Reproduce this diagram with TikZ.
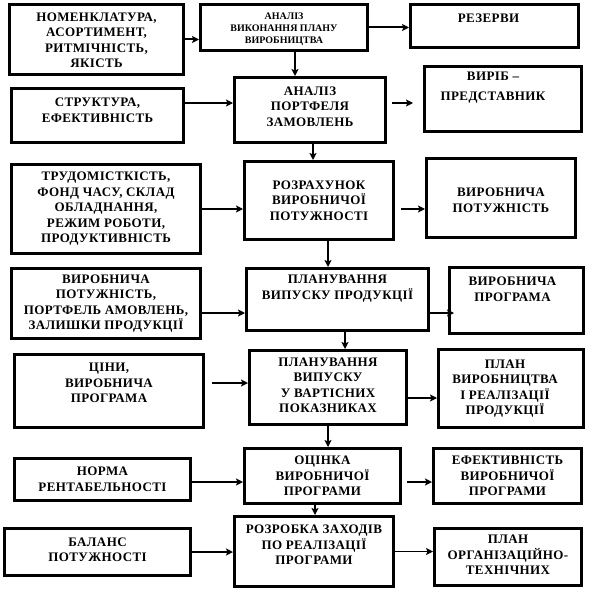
\documentclass[tikz,border=0pt]{standalone}
\usepackage{fontspec}
\setmainfont{Liberation Serif}
\newfontfamily\widefont[LetterSpace=3]{Liberation Serif}
\usetikzlibrary{arrows.meta,positioning,calc}
\tikzset{
  box/.style 2 args={draw=black,line width=3pt,inner sep=0pt,
                     minimum width=#1pt,minimum height=#2pt},
  lbl/.style={font=\widefont\bfseries\fontsize{13}{15.5}\selectfont,
              align=center,inner sep=0pt},
  sml/.style={font=\bfseries\fontsize{10}{12}\selectfont,
              align=center,inner sep=0pt},
  arr/.style={-{Stealth[length=7pt,width=7pt,inset=1.5pt]},line width=2pt},
}

\begin{document}
\begin{tikzpicture}[x=1pt,y=-1pt]
  \useasboundingbox (0,0) rectangle (596,594);
  % left column: input data
  \node[box={174}{70}] (nomen) at (96.5,39.5) {};
  \node[lbl] (nomen-t) at ([yshift=-1pt]nomen) {НОМЕНКЛАТУРА,\\АСОРТИМЕНТ,\\РИТМІЧНІСТЬ,\\ЯКІСТЬ};
  \node[box={172}{54}] (strukt) at (97.5,115.5) {};
  \node[lbl] (strukt-t) at ([yshift=5pt]strukt) {СТРУКТУРА,\\ЕФЕКТИВНІСТЬ};
  \node[box={189}{89}] (trud) at (106,209) {};
  \node[lbl] (trud-t) at (trud) {ТРУДОМІСТКІСТЬ,\\ФОНД ЧАСУ, СКЛАД\\ОБЛАДНАННЯ,\\РЕЖИМ РОБОТИ,\\ПРОДУКТИВНІСТЬ};
  \node[box={189}{70}] (vhid) at (106,303.5) {};
  \node[lbl] (vhid-t) at (vhid) {ВИРОБНИЧА\\ПОТУЖНІСТЬ,\\ПОРТФЕЛЬ АМОВЛЕНЬ,\\ЗАЛИШКИ ПРОДУКЦІЇ};
  \node[box={189}{73}] (tsiny) at (109,391) {};
  \node[lbl] (tsiny-t) at ([yshift=8pt]tsiny) {ЦІНИ,\\ВИРОБНИЧА\\ПРОГРАМА};
  \node[box={176}{42}] (norma) at (102.5,479.5) {};
  \node[lbl] (norma-t) at (norma) {НОРМА\\РЕНТАБЕЛЬНОСТІ};
  \node[box={186}{47}] (balans) at (97.5,552) {};
  \node[lbl] (balans-t) at ([yshift=2pt]balans) {БАЛАНС\\ПОТУЖНОСТІ};

  % middle column: stages
  \node[box={167}{46}] (anvp) at (284,27.5) {};
  \node[sml] (anvp-t) at ([yshift=-1.5pt]anvp) {АНАЛІЗ\\ВИКОНАННЯ ПЛАНУ\\ВИРОБНИЦТВА};
  \node[box={151}{65}] (portf) at (310,110) {};
  \node[lbl] (portf-t) at ([yshift=3.5pt]portf) {АНАЛІЗ\\ПОРТФЕЛЯ\\ЗАМОВЛЕНЬ};
  \node[box={149}{78}] (rozr) at (319,200.5) {};
  \node[lbl] (rozr-t) at (rozr) {РОЗРАХУНОК\\ВИРОБНИЧОЇ\\ПОТУЖНОСТІ};
  \node[box={182}{62}] (planv) at (337.5,299.5) {};
  \node[lbl] (planv-t) at ([yshift=11pt]planv) {ПЛАНУВАННЯ\\ВИПУСКУ ПРОДУКЦІЇ};
  \node[box={157}{74}] (vart) at (328,387.5) {};
  \node[lbl] (vart-t) at ([yshift=2pt]vart) {ПЛАНУВАННЯ\\ВИПУСКУ\\У ВАРТІСНИХ\\ПОКАЗНИКАХ};
  \node[box={156}{55}] (otsin) at (322.5,476) {};
  \node[lbl] (otsin-t) at (otsin) {ОЦІНКА\\ВИРОБНИЧОЇ\\ПРОГРАМИ};
  \node[box={159}{70}] (zakh) at (314,551.5) {};
  \node[lbl] (zakh-t) at ([yshift=6.5pt]zakh) {РОЗРОБКА ЗАХОДІВ\\ПО РЕАЛІЗАЦІЇ\\ПРОГРАМИ};

  % right column: results
  \node[box={168}{43}] (rez) at (494.5,26) {};
  \node[lbl] (rez-t) at ([xshift=-6pt,yshift=8pt]rez) {РЕЗЕРВИ};
  \node[box={157}{65}] (vyrib) at (503,99) {};
  \node[lbl,font=\widefont\bfseries\fontsize{13}{20}\selectfont] (vyrib-t)
    at ([xshift=-10pt,yshift=11pt]vyrib) {ВИРІБ –\\ПРЕДСТАВНИК};
  \node[box={149}{79}] (potuzh) at (501,198) {};
  \node[lbl] (potuzh-t) at ([yshift=-2.5pt]potuzh) {ВИРОБНИЧА\\ПОТУЖНІСТЬ};
  \node[box={134}{66}] (prog) at (516.5,300.5) {};
  \node[lbl] (prog-t) at ([xshift=-4pt,yshift=11pt]prog) {ВИРОБНИЧА\\ПРОГРАМА};
  \node[box={145}{78}] (planvr) at (511,388.5) {};
  \node[lbl] (planvr-t) at ([xshift=-6pt]planvr) {ПЛАН\\ВИРОБНИЦТВА\\І РЕАЛІЗАЦІЇ\\ПРОДУКЦІЇ};
  \node[box={148}{55}] (efekt) at (507.5,476) {};
  \node[lbl] (efekt-t) at (efekt) {ЕФЕКТИВНІСТЬ\\ВИРОБНИЧОЇ\\ПРОГРАМИ};
  \node[box={147}{57}] (plorg) at (508,557) {};
  \node[lbl] (plorg-t) at ([yshift=2pt]plorg) {ПЛАН\\ОРГАНІЗАЦІЙНО-\\ТЕХНІЧНИХ};

  % connectors
  \draw[arr] (nomen) -- (nomen -| anvp.west);
  \draw[arr] (anvp) -- (anvp -| rez.west);
  \draw[arr] ([xshift=11pt]anvp.south) -- ([xshift=11pt]anvp.south |- portf.north);
  \draw[arr] ([yshift=12.5pt]strukt.east) -- ([yshift=12.5pt]strukt.east -| portf.west);
  \draw[arr,shorten <=5pt,shorten >=10pt] ([yshift=7pt]portf.east) -- ([yshift=7pt]portf.east -| vyrib.west);
  \draw[arr] ([xshift=3pt]portf.south) -- ([xshift=3pt]portf.south |- rozr.north);
  \draw[arr] (trud) -- (trud -| rozr.west);
  \draw[arr,shorten <=6pt] ([yshift=-8.5pt]rozr.east) -- ([yshift=-8.5pt]rozr.east -| potuzh.west);
  \draw[arr] ([xshift=9pt]rozr.south) -- ([xshift=9pt]rozr.south |- planv.north);
  \draw[arr] ([yshift=-9.5pt]vhid.east) -- ([yshift=-9.5pt]vhid.east -| planv.west);
  \draw[arr,shorten >=-6pt] ([yshift=-13.5pt]planv.east) -- ([yshift=-13.5pt]planv.east -| prog.west);
  \draw[arr] ([xshift=7.5pt]planv.south) -- ([xshift=7.5pt]planv.south |- vart.north);
  \draw[arr,shorten <=7pt] ([yshift=8pt]tsiny.east) -- ([yshift=8pt]tsiny.east -| vart.west);
  \draw[arr] ([yshift=-10.5pt]vart.east) -- ([yshift=-10.5pt]vart.east -| planvr.west);
  \draw[arr] (vart.south) -- (vart.south |- otsin.north);
  \draw[arr] ([yshift=-2.5pt]norma.east) -- ([yshift=-2.5pt]norma.east -| otsin.west);
  \draw[arr,shorten <=5pt] ([yshift=-6pt]otsin.east) -- ([yshift=-6pt]otsin.east -| efekt.west);
  \draw[arr] ([xshift=-7.5pt]otsin.south) -- ([xshift=-7.5pt]otsin.south |- zakh.north);
  \draw[arr] (balans) -- (balans -| zakh.west);
  \draw[arr,line width=1pt] (zakh.east) -- (zakh.east -| plorg.west);
\end{tikzpicture}
\end{document}
